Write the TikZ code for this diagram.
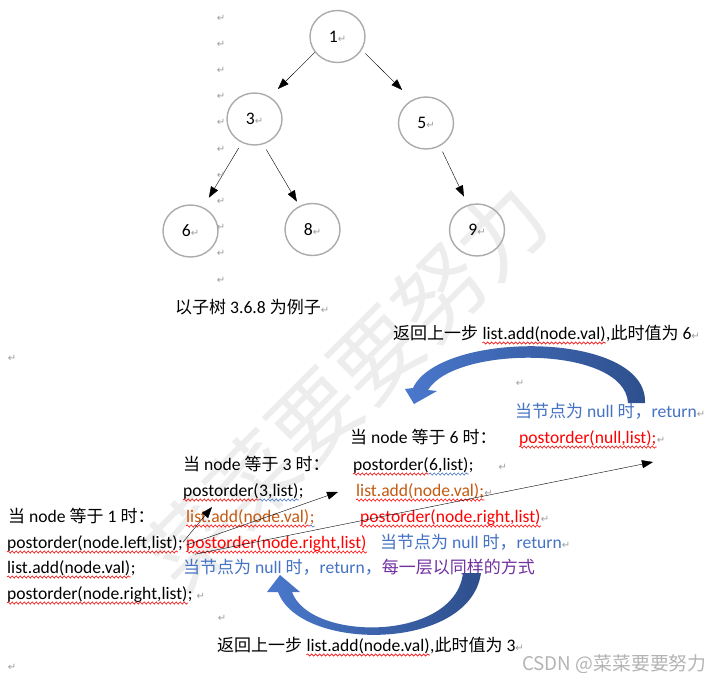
\documentclass[tikz,border=0pt]{standalone}
\usepackage{fontspec}
\setmainfont{Carlito}
\newfontfamily\zhfont{Noto Sans CJK SC}[Scale=0.966]
\newfontfamily\retfont{DejaVu Sans}
\usetikzlibrary{arrows.meta,shapes.geometric,decorations.pathmorphing}

\definecolor{ringgray}{HTML}{ABABAB}
\definecolor{markgray}{HTML}{9E9E9E}
\definecolor{wmgray}{HTML}{EDEDED}
\definecolor{csdngray}{HTML}{B4B4B4}
\definecolor{txtblue}{HTML}{4472C4}
\definecolor{txtred}{HTML}{FF0000}
\definecolor{txtorange}{HTML}{C55A11}
\definecolor{txtpurple}{HTML}{7030A0}
\definecolor{arcblue}{HTML}{4A78CC}
\definecolor{arcdark}{HTML}{2E4F8C}

\newcommand\zh[1]{{\zhfont #1}}
\newcommand\ret{{\retfont\color{markgray}\fontsize{10}{10}\selectfont ↵}}

\begin{document}
\begin{tikzpicture}[x=1pt,y=-1pt,>={Triangle[length=11pt,width=8pt]},
  font=\fontsize{17.6}{20}\selectfont,
  vertex/.style={ellipse,draw=ringgray,line width=1.4pt,minimum width=55pt,minimum height=52pt,inner sep=0pt},
  line/.style={anchor=base west,inner sep=0pt},
  retmark/.style={inner sep=0pt},
  wave/.style={decorate,decoration={snake,segment length=4pt,amplitude=1.1pt},line width=0.6pt,draw=txtred},
  bluewave/.style={wave,draw=txtblue},
  bigarc/.style={left color=arcblue,right color=arcdark}]
\fill[white] (0,0) rectangle (724,673);
\useasboundingbox (0,0) rectangle (724,673);

% watermark
\node[rotate=45,text=wmgray,font=\zhfont\fontsize{91}{91}\selectfont] (wm) at (346,386) {菜菜要要努力};

% the tree
\node[vertex] (n1) at (337.5,36.5) {1\ret};
\node[vertex] (n3) at (254.5,119) {3\ret};
\node[vertex] (n5) at (426,123) {5\ret};
\node[vertex] (n6) at (190.5,231) {6\ret};
\node[vertex] (n8) at (312.5,229.5) {8\ret};
\node[vertex] (n9) at (477,230) {9\ret};

\draw[->,thin,shorten >=11pt] (n1.215) -- (n3.55);
\draw[->,thin,shorten <=5pt,shorten >=14pt] (n1.-29) -- (n5.121);
\draw[->,thin,shorten <=6pt,shorten >=11pt] (n3.242) -- (n6.62);
\draw[->,thin,shorten <=6pt,shorten >=5pt] (n3.-71) -- (n8.119);
\draw[->,thin,shorten <=6pt,shorten >=9pt] (n5.-59) -- (n9.110);

\foreach \i in {0,...,10}
  \node[retmark] (gap\i) at (221,{18+26.2*\i}) {\ret};

\node[line] (cap) at (175,313) {\zh{以子树} 3.6.8 \zh{为例子}\ret};

% node = 6
\node[line] (back6) at (393,339) {\zh{返回上一步}};
\node[line] (back6w) at ([xshift=4pt]back6.base east) {list.add(node.val)};
\node[line] (back6e) at (back6w.base east) {,\zh{此时值为} 6\ret};
\node[retmark] (blank1) at (12,358) {\ret};
\node[retmark] (blank2) at (520,383) {\ret};
\node[line,text=txtblue] (null6) at (515,417) {\zh{当节点为} null \zh{时，}return\ret};
\node[line] (head6) at (350,443) {\zh{当} node \zh{等于} 6 \zh{时：}};
\node[line,text=txtred] (nullcall) at (519,443) {postorder(null,list);};
\node[line] (nullcalle) at (nullcall.base east) {\ret};
\node[line] (call6) at (353,470) {postorder(};
\node[line] (call6w) at (call6.base east) {6,list)};
\node[line] (call6e) at (call6w.base east) {;\hspace{25pt}\ret};
\node[line,text=txtorange] (add6) at (356,496) {list.add(node.val);};
\node[line] (add6e) at (add6.base east) {\ret};
\node[line,text=txtred] (right6) at (360,522) {postorder(node.right,list)};
\node[line] (right6e) at (right6.base east) {\ret};
\node[line,text=txtblue] (nullsix) at (380,548) {\zh{当节点为} null \zh{时，}return\ret};

% node = 3
\node[line] (head3) at (183,470) {\zh{当} node \zh{等于} 3 \zh{时：}};
\node[line] (call3) at (183,496) {postorder(};
\node[line] (call3w) at (call3.base east) {3,list)};
\node[line] (call3e) at (call3w.base east) {;};
\node[line,text=txtorange] (add3) at (186,522) {list.add(node.val)};
\node[line,text=txtorange] (add3w) at (add3.base east) {;\hspace{34pt}};
\node[line,text=txtred] (right3) at (186,548) {postorder(node.right,list)};
\node[line] (null3) at (183,573) {\color{txtblue}\zh{当节点为} null \zh{时，}return\zh{，}\color{txtpurple}\zh{每一层以同样的方式}};

% node = 1
\node[line] (head1) at (8,522) {\zh{当} node \zh{等于} 1 \zh{时：}};
\node[line] (left1) at (7,548) {postorder(node.left,list)};
\node[line] (left1e) at (left1.base east) {;};
\node[line] (add1) at (7,573) {list.add(node.val)};
\node[line] (add1e) at (add1.base east) {;};
\node[line] (right1) at (7,599) {postorder(node.right,list)};
\node[line] (right1e) at (right1.base east) {; \ret};
\node[retmark] (blank3) at (222,618) {\ret};
\node[line] (back3) at (217,651) {\zh{返回上一步}};
\node[line] (back3w) at ([xshift=4pt]back3.base east) {list.add(node.val)};
\node[line] (back3e) at (back3w.base east) {,\zh{此时值为} 3\ret};
\node[retmark] (blank4) at (12,667) {\ret};

% spelling marks
\foreach \w in {back6w,nullcall,call6,add6,right6,call3,add3,right3,left1,add1,right1,back3w}
  \draw[wave] ([yshift=-4pt]\w.base west) -- ([yshift=-4pt]\w.base east);
\foreach \w in {call6w,call3w,add3w}
  \draw[bluewave] ([yshift=-4pt]\w.base west) -- ([yshift=-4pt]\w.base east);

% calls
\coordinate (tipthree) at (212,507);
\coordinate (tipsix) at (338,492);
\coordinate (tipnull) at (653,462);
\draw[->,thin] ([yshift=3pt]left1e.east) -- (tipthree);
\draw[->,thin] ([xshift=3pt]left1e.east) -- (tipsix);
\draw[->,thin] ([xshift=12pt,yshift=-9pt]left1e.east) -- (tipnull);

% returns
\shade[bigarc] (645,403) .. controls (648,330) and (440,330) .. (413,388)
  -- (405,389) -- (414,404) -- (437,391) -- (428,390)
  .. controls (455,345) and (625,345) .. (628,403) -- cycle;
\shade[bigarc] (481,573) .. controls (470,652) and (300,652) .. (278,592)
  -- (267,592) -- (280,575) -- (300,592) -- (292,592)
  .. controls (310,642) and (455,642) .. (463,573) -- cycle;

\node[line,text=csdngray,font=\zhfont\fontsize{19.5}{20}\selectfont] (csdn) at (522,670) {CSDN @菜菜要要努力};
\end{tikzpicture}
\end{document}
